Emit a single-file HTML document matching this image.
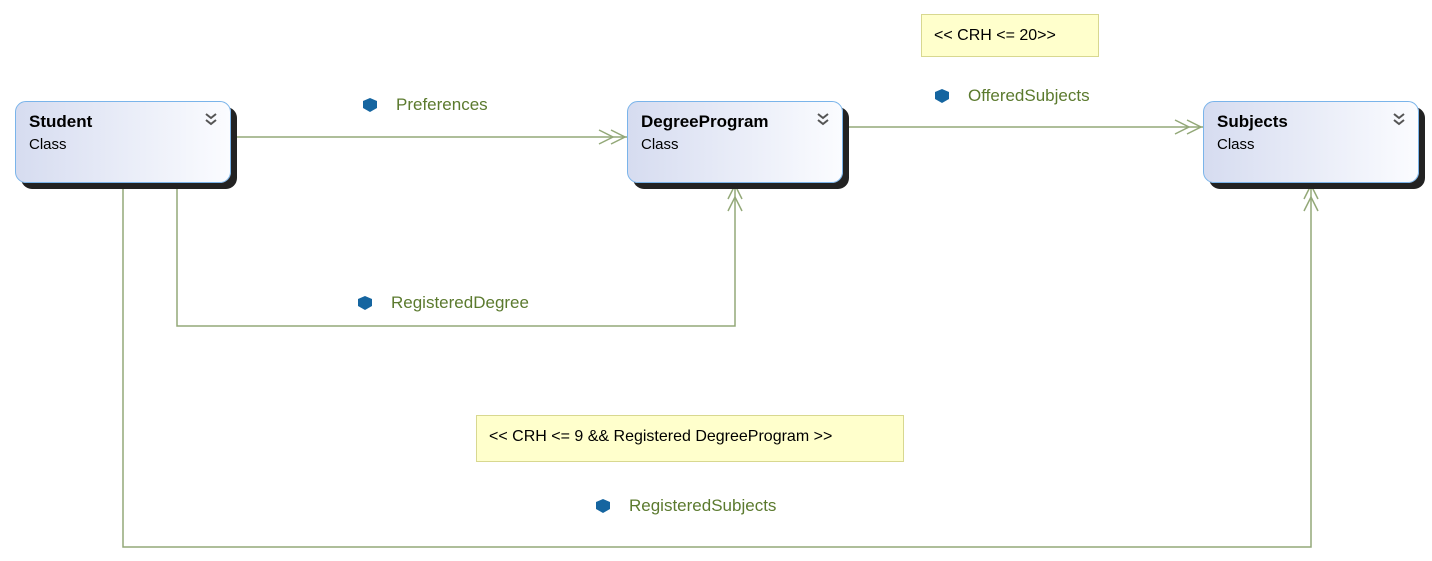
<html><head><style>
body{margin:0;width:1432px;height:561px;background:#fff;position:relative;font-family:"Segoe UI","Liberation Sans",sans-serif;overflow:hidden}
.box{position:absolute;width:216px;height:82px;top:101px;border:1px solid #7ab4ea;border-radius:11px;background:linear-gradient(90deg,#d6dcf0,#fbfcff);box-shadow:6px 6px 0 #222;box-sizing:border-box}
.box b{position:absolute;left:13px;top:10px;font-size:17px;color:#000}
.box span{position:absolute;left:13px;top:34px;font-size:15px;color:#000}
.box svg{position:absolute;right:12px;top:10px}
.lbl{position:absolute;font-size:17px;color:#5b7a2e}
.note{position:absolute;background:#ffffcc;border:1px solid #d8d890;font-size:16px;box-sizing:border-box;padding:12px 12px}
</style></head><body>
<svg width="1432" height="561" style="position:absolute;left:0;top:0" fill="none" stroke="#93a878" stroke-width="1.5">
<path d="M231 137H627M843 127H1203M177 183V326H735V183M123 183V547H1311V183"/>
<path d="M599 130L613 137L599 144M611 130L625 137L611 144"/>
<path d="M1175 120L1189 127L1175 134M1187 120L1201 127L1187 134"/>
<path d="M728 211L735 197L742 211M728 199L735 185L742 199"/>
<path d="M1304 211L1311 197L1318 211M1304 199L1311 185L1318 199"/>
<g fill="#1565a0" stroke="none">
<path d="M363 101l7-3 7 3v7l-7 4-7-4z"/><path d="M935 92l7-3 7 3v7l-7 4-7-4z"/>
<path d="M358 299l7-3 7 3v7l-7 4-7-4z"/><path d="M596 502l7-3 7 3v7l-7 4-7-4z"/>
</g>
</svg>
<div class="box" style="left:15px"><b>Student</b><span>Class</span><svg width="14" height="14" fill="none" stroke="#555" stroke-width="2"><path d="M2 2l5 4 5-4M2 8l5 4 5-4"/></svg></div>
<div class="box" style="left:627px"><b>DegreeProgram</b><span>Class</span><svg width="14" height="14" fill="none" stroke="#555" stroke-width="2"><path d="M2 2l5 4 5-4M2 8l5 4 5-4"/></svg></div>
<div class="box" style="left:1203px"><b>Subjects</b><span>Class</span><svg width="14" height="14" fill="none" stroke="#555" stroke-width="2"><path d="M2 2l5 4 5-4M2 8l5 4 5-4"/></svg></div>
<div class="lbl" style="left:396px;top:95px">Preferences</div>
<div class="lbl" style="left:968px;top:86px">OfferedSubjects</div>
<div class="lbl" style="left:391px;top:293px">RegisteredDegree</div>
<div class="lbl" style="left:629px;top:496px">RegisteredSubjects</div>
<div class="note" style="left:921px;top:14px;width:178px;height:43px">&lt;&lt; CRH &lt;= 20&gt;&gt;</div>
<div class="note" style="left:476px;top:415px;width:428px;height:47px">&lt;&lt; CRH &lt;= 9 &amp;&amp; Registered DegreeProgram &gt;&gt;</div>
</body></html>
